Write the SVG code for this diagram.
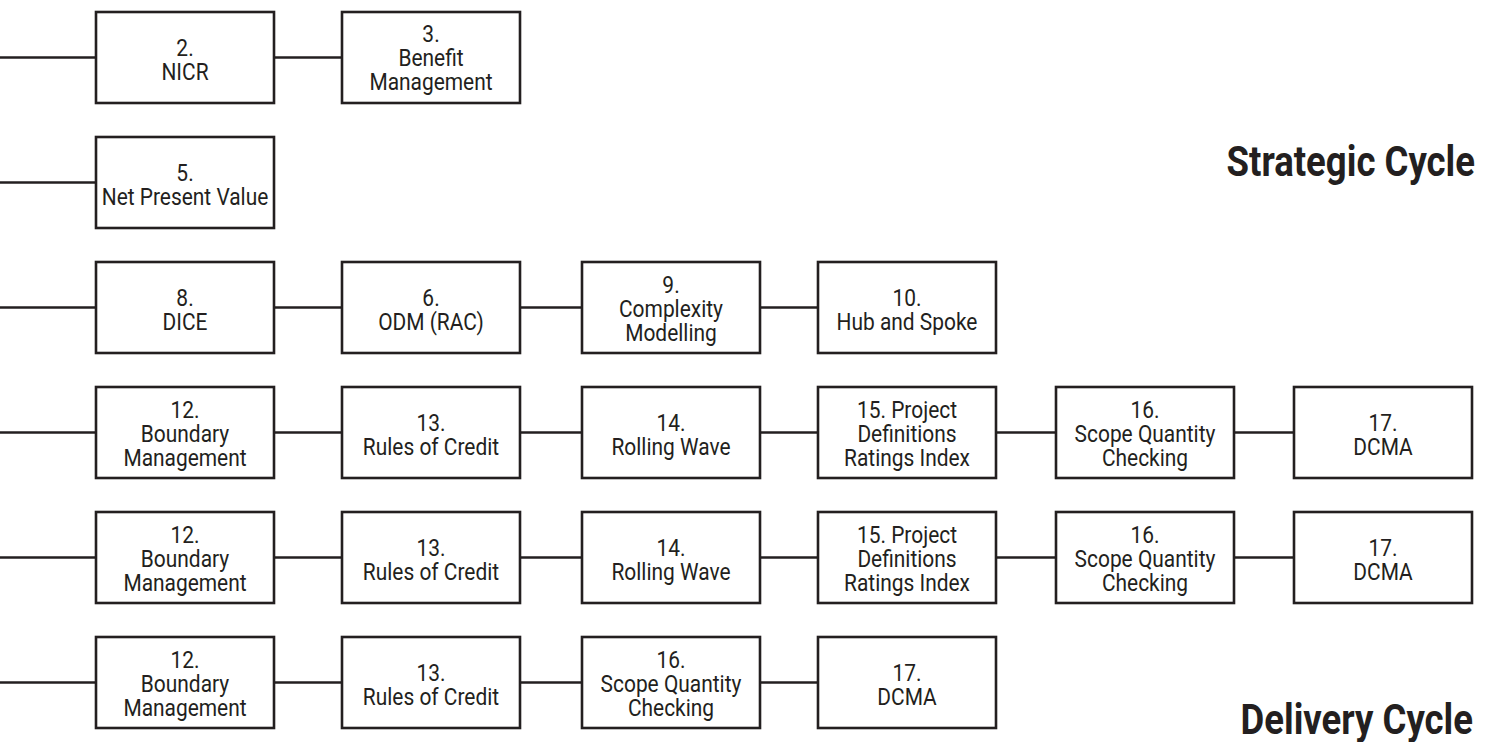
<svg xmlns="http://www.w3.org/2000/svg" width="1488" height="742" viewBox="0 0 1488 742">
  <style>
    .box { fill: #ffffff; stroke: #231f20; stroke-width: 2.6; }
    .link { stroke: #231f20; stroke-width: 2.6; fill: none; }
    .lbl { font-family: Roboto, "Liberation Sans", sans-serif; font-size: 23px; fill: #231f20; text-anchor: middle; }
    .title { font-family: Roboto, "Liberation Sans", sans-serif; font-weight: 700; font-size: 43px; fill: #231f20; text-anchor: end; }
  </style>
  <rect width="1488" height="742" fill="#ffffff"/>

  <!-- horizontal connectors, one chain per row -->
  <g id="connectors">
    <line class="link" x1="0" y1="57.5" x2="342" y2="57.5"/>
    <line class="link" x1="0" y1="182.5" x2="96" y2="182.5"/>
    <line class="link" x1="0" y1="307.5" x2="818" y2="307.5"/>
    <line class="link" x1="0" y1="432.5" x2="1294" y2="432.5"/>
    <line class="link" x1="0" y1="557.5" x2="1294" y2="557.5"/>
    <line class="link" x1="0" y1="682.5" x2="818" y2="682.5"/>
  </g>

  <!-- row 1 -->
  <g id="r1-n2">
    <rect class="box" x="96" y="12" width="178" height="91"/>
    <text class="lbl" transform="translate(185,0) scale(0.91,1)"><tspan x="0" y="56">2.</tspan><tspan x="0" y="80">NICR</tspan></text>
  </g>
  <g id="r1-n3">
    <rect class="box" x="342" y="12" width="178" height="91"/>
    <text class="lbl" transform="translate(431,0) scale(0.91,1)"><tspan x="0" y="42">3.</tspan><tspan x="0" y="66">Benefit</tspan><tspan x="0" y="90">Management</tspan></text>
  </g>

  <!-- row 2 -->
  <g id="r2-n5">
    <rect class="box" x="96" y="137" width="178" height="91"/>
    <text class="lbl" transform="translate(185,0) scale(0.91,1)"><tspan x="0" y="181">5.</tspan><tspan x="0" y="205">Net Present Value</tspan></text>
  </g>

  <!-- row 3 -->
  <g id="r3-n8">
    <rect class="box" x="96" y="262" width="178" height="91"/>
    <text class="lbl" transform="translate(185,0) scale(0.91,1)"><tspan x="0" y="306">8.</tspan><tspan x="0" y="330">DICE</tspan></text>
  </g>
  <g id="r3-n6">
    <rect class="box" x="342" y="262" width="178" height="91"/>
    <text class="lbl" transform="translate(431,0) scale(0.91,1)"><tspan x="0" y="306">6.</tspan><tspan x="0" y="330">ODM (RAC)</tspan></text>
  </g>
  <g id="r3-n9">
    <rect class="box" x="582" y="262" width="178" height="91"/>
    <text class="lbl" transform="translate(671,0) scale(0.91,1)"><tspan x="0" y="293">9.</tspan><tspan x="0" y="317">Complexity</tspan><tspan x="0" y="341">Modelling</tspan></text>
  </g>
  <g id="r3-n10">
    <rect class="box" x="818" y="262" width="178" height="91"/>
    <text class="lbl" transform="translate(907,0) scale(0.91,1)"><tspan x="0" y="306">10.</tspan><tspan x="0" y="330">Hub and Spoke</tspan></text>
  </g>

  <!-- row 4 -->
  <g id="r4-n12">
    <rect class="box" x="96" y="387" width="178" height="91"/>
    <text class="lbl" transform="translate(185,0) scale(0.91,1)"><tspan x="0" y="418">12.</tspan><tspan x="0" y="442">Boundary</tspan><tspan x="0" y="466">Management</tspan></text>
  </g>
  <g id="r4-n13">
    <rect class="box" x="342" y="387" width="178" height="91"/>
    <text class="lbl" transform="translate(431,0) scale(0.91,1)"><tspan x="0" y="431">13.</tspan><tspan x="0" y="455">Rules of Credit</tspan></text>
  </g>
  <g id="r4-n14">
    <rect class="box" x="582" y="387" width="178" height="91"/>
    <text class="lbl" transform="translate(671,0) scale(0.91,1)"><tspan x="0" y="431">14.</tspan><tspan x="0" y="455">Rolling Wave</tspan></text>
  </g>
  <g id="r4-n15">
    <rect class="box" x="818" y="387" width="178" height="91"/>
    <text class="lbl" transform="translate(907,0) scale(0.91,1)"><tspan x="0" y="418">15. Project</tspan><tspan x="0" y="442">Definitions</tspan><tspan x="0" y="466">Ratings Index</tspan></text>
  </g>
  <g id="r4-n16">
    <rect class="box" x="1056" y="387" width="178" height="91"/>
    <text class="lbl" transform="translate(1145,0) scale(0.91,1)"><tspan x="0" y="418">16.</tspan><tspan x="0" y="442">Scope Quantity</tspan><tspan x="0" y="466">Checking</tspan></text>
  </g>
  <g id="r4-n17">
    <rect class="box" x="1294" y="387" width="178" height="91"/>
    <text class="lbl" transform="translate(1383,0) scale(0.91,1)"><tspan x="0" y="431">17.</tspan><tspan x="0" y="455">DCMA</tspan></text>
  </g>

  <!-- row 5 -->
  <g id="r5-n12">
    <rect class="box" x="96" y="512" width="178" height="91"/>
    <text class="lbl" transform="translate(185,0) scale(0.91,1)"><tspan x="0" y="543">12.</tspan><tspan x="0" y="567">Boundary</tspan><tspan x="0" y="591">Management</tspan></text>
  </g>
  <g id="r5-n13">
    <rect class="box" x="342" y="512" width="178" height="91"/>
    <text class="lbl" transform="translate(431,0) scale(0.91,1)"><tspan x="0" y="556">13.</tspan><tspan x="0" y="580">Rules of Credit</tspan></text>
  </g>
  <g id="r5-n14">
    <rect class="box" x="582" y="512" width="178" height="91"/>
    <text class="lbl" transform="translate(671,0) scale(0.91,1)"><tspan x="0" y="556">14.</tspan><tspan x="0" y="580">Rolling Wave</tspan></text>
  </g>
  <g id="r5-n15">
    <rect class="box" x="818" y="512" width="178" height="91"/>
    <text class="lbl" transform="translate(907,0) scale(0.91,1)"><tspan x="0" y="543">15. Project</tspan><tspan x="0" y="567">Definitions</tspan><tspan x="0" y="591">Ratings Index</tspan></text>
  </g>
  <g id="r5-n16">
    <rect class="box" x="1056" y="512" width="178" height="91"/>
    <text class="lbl" transform="translate(1145,0) scale(0.91,1)"><tspan x="0" y="543">16.</tspan><tspan x="0" y="567">Scope Quantity</tspan><tspan x="0" y="591">Checking</tspan></text>
  </g>
  <g id="r5-n17">
    <rect class="box" x="1294" y="512" width="178" height="91"/>
    <text class="lbl" transform="translate(1383,0) scale(0.91,1)"><tspan x="0" y="556">17.</tspan><tspan x="0" y="580">DCMA</tspan></text>
  </g>

  <!-- row 6 -->
  <g id="r6-n12">
    <rect class="box" x="96" y="637" width="178" height="91"/>
    <text class="lbl" transform="translate(185,0) scale(0.91,1)"><tspan x="0" y="668">12.</tspan><tspan x="0" y="692">Boundary</tspan><tspan x="0" y="716">Management</tspan></text>
  </g>
  <g id="r6-n13">
    <rect class="box" x="342" y="637" width="178" height="91"/>
    <text class="lbl" transform="translate(431,0) scale(0.91,1)"><tspan x="0" y="681">13.</tspan><tspan x="0" y="705">Rules of Credit</tspan></text>
  </g>
  <g id="r6-n16">
    <rect class="box" x="582" y="637" width="178" height="91"/>
    <text class="lbl" transform="translate(671,0) scale(0.91,1)"><tspan x="0" y="668">16.</tspan><tspan x="0" y="692">Scope Quantity</tspan><tspan x="0" y="716">Checking</tspan></text>
  </g>
  <g id="r6-n17">
    <rect class="box" x="818" y="637" width="178" height="91"/>
    <text class="lbl" transform="translate(907,0) scale(0.91,1)"><tspan x="0" y="681">17.</tspan><tspan x="0" y="705">DCMA</tspan></text>
  </g>

  <!-- cycle headings -->
  <g id="headings">
    <text class="title" transform="translate(1475,176) scale(0.85,1)" x="0" y="0">Strategic Cycle</text>
    <text class="title" transform="translate(1473,734) scale(0.85,1)" x="0" y="0">Delivery Cycle</text>
  </g>
</svg>
